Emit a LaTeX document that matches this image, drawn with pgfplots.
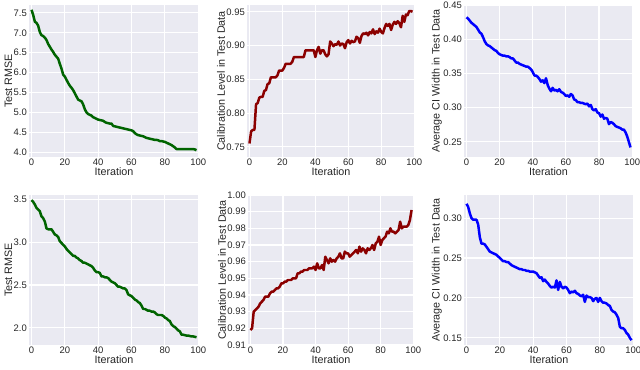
\documentclass[border=0pt]{standalone}
\usepackage{pgfplots}
\usepackage{pgfplotstable}
\pgfplotsset{compat=1.18}
\usepackage{fontspec}
\setmainfont{Liberation Sans}
\definecolor{sbbg}{HTML}{EAEAF2}
\definecolor{sbtxt}{HTML}{262626}
\definecolor{lgreen}{HTML}{006400}
\definecolor{lred}{HTML}{8B0000}
\definecolor{lblue}{HTML}{0000FF}

\pgfplotstableread{
x a b c d e f
0 7.58 0.755 0.432 3.49 0.919 0.318
1 7.45 0.773 0.430 3.47 0.920 0.314
2 7.28 0.775 0.427 3.44 0.930 0.306
3 7.25 0.775 0.424 3.40 0.931 0.300
4 7.18 0.813 0.422 3.38 0.932 0.298
5 7.02 0.815 0.420 3.36 0.933 0.298
6 6.94 0.823 0.418 3.30 0.935 0.298
7 6.92 0.824 0.414 3.28 0.936 0.292
8 6.88 0.824 0.410 3.24 0.937 0.276
9 6.82 0.833 0.408 3.16 0.939 0.268
10 6.72 0.834 0.403 3.15 0.939 0.268
11 6.65 0.843 0.397 3.15 0.939 0.267
12 6.58 0.844 0.393 3.15 0.941 0.264
13 6.52 0.853 0.391 3.12 0.942 0.261
14 6.45 0.853 0.390 3.09 0.942 0.258
15 6.40 0.853 0.388 3.08 0.943 0.257
16 6.35 0.853 0.386 3.06 0.944 0.256
17 6.22 0.856 0.384 3.01 0.944 0.255
18 6.10 0.863 0.383 2.99 0.945 0.254
19 5.95 0.863 0.380 2.97 0.947 0.252
20 5.90 0.863 0.378 2.95 0.947 0.250
21 5.82 0.867 0.377 2.92 0.948 0.248
22 5.74 0.873 0.376 2.90 0.948 0.246
23 5.67 0.873 0.376 2.88 0.949 0.246
24 5.62 0.873 0.375 2.86 0.949 0.245
25 5.56 0.873 0.375 2.84 0.949 0.245
26 5.48 0.876 0.374 2.84 0.950 0.243
27 5.40 0.883 0.372 2.82 0.950 0.241
28 5.32 0.883 0.372 2.81 0.950 0.240
29 5.30 0.883 0.369 2.79 0.953 0.239
30 5.28 0.883 0.366 2.78 0.953 0.238
31 5.20 0.883 0.366 2.76 0.954 0.237
32 5.08 0.883 0.364 2.76 0.954 0.236
33 5.00 0.883 0.363 2.75 0.955 0.236
34 4.96 0.893 0.362 2.74 0.955 0.235
35 4.94 0.893 0.361 2.73 0.955 0.235
36 4.92 0.893 0.360 2.72 0.956 0.234
37 4.88 0.893 0.360 2.70 0.956 0.234
38 4.86 0.893 0.358 2.67 0.956 0.233
39 4.84 0.893 0.356 2.65 0.957 0.233
40 4.82 0.883 0.352 2.65 0.955 0.233
41 4.81 0.893 0.347 2.64 0.959 0.232
42 4.80 0.898 0.347 2.60 0.956 0.231
43 4.79 0.888 0.345 2.60 0.956 0.228
44 4.76 0.893 0.342 2.59 0.958 0.225
45 4.74 0.893 0.338 2.59 0.955 0.226
46 4.73 0.887 0.340 2.58 0.963 0.221
47 4.72 0.884 0.336 2.56 0.961 0.223
48 4.72 0.887 0.343 2.54 0.959 0.220
49 4.66 0.906 0.333 2.53 0.962 0.218
50 4.65 0.903 0.328 2.52 0.960 0.215
51 4.64 0.899 0.324 2.50 0.961 0.213
52 4.63 0.902 0.329 2.48 0.960 0.214
53 4.62 0.901 0.325 2.48 0.962 0.213
54 4.61 0.906 0.326 2.47 0.963 0.222
55 4.60 0.900 0.324 2.46 0.965 0.210
56 4.59 0.903 0.327 2.46 0.962 0.220
57 4.58 0.902 0.323 2.44 0.962 0.214
58 4.57 0.896 0.322 2.39 0.966 0.212
59 4.56 0.905 0.320 2.38 0.965 0.214
60 4.55 0.908 0.317 2.37 0.965 0.213
61 4.53 0.903 0.318 2.35 0.963 0.210
62 4.48 0.907 0.316 2.33 0.964 0.206
63 4.45 0.905 0.320 2.32 0.965 0.208
64 4.43 0.906 0.318 2.30 0.966 0.207
65 4.42 0.913 0.312 2.29 0.967 0.209
66 4.41 0.911 0.311 2.26 0.965 0.206
67 4.40 0.904 0.308 2.22 0.969 0.205
68 4.38 0.914 0.308 2.22 0.966 0.203
69 4.36 0.918 0.307 2.21 0.968 0.202
70 4.35 0.917 0.307 2.20 0.967 0.204
71 4.34 0.919 0.306 2.20 0.965 0.195
72 4.33 0.915 0.305 2.19 0.968 0.203
73 4.32 0.920 0.306 2.19 0.967 0.201
74 4.31 0.918 0.302 2.18 0.968 0.201
75 4.31 0.924 0.304 2.16 0.970 0.200
76 4.30 0.917 0.298 2.15 0.967 0.196
77 4.28 0.921 0.296 2.15 0.971 0.199
78 4.28 0.919 0.298 2.15 0.972 0.200
79 4.27 0.925 0.293 2.14 0.975 0.195
80 4.26 0.920 0.292 2.12 0.970 0.200
81 4.24 0.918 0.287 2.11 0.973 0.196
82 4.22 0.926 0.290 2.09 0.974 0.194
83 4.20 0.932 0.284 2.08 0.975 0.194
84 4.18 0.929 0.285 2.04 0.978 0.193
85 4.15 0.932 0.284 2.02 0.977 0.191
86 4.12 0.923 0.276 2.01 0.980 0.190
87 4.08 0.931 0.279 1.99 0.978 0.185
88 4.08 0.935 0.278 1.97 0.978 0.183
89 4.08 0.932 0.276 1.96 0.977 0.182
90 4.08 0.936 0.273 1.92 0.978 0.179
91 4.08 0.933 0.272 1.92 0.979 0.175
92 4.08 0.927 0.271 1.915 0.984 0.164
93 4.08 0.944 0.270 1.91 0.980 0.162
94 4.08 0.935 0.268 1.91 0.981 0.162
95 4.08 0.946 0.268 1.905 0.981 0.160
96 4.08 0.945 0.264 1.90 0.981 0.156
97 4.08 0.951 0.258 1.90 0.982 0.154
98 4.07 0.951 0.250 1.895 0.985 0.150
99 4.05 0.950 0.242 1.89 0.991 0.147
}\data

\pgfplotsset{
  sb/.style={
    scale only axis,
    anchor=south west,
    axis background/.style={fill=sbbg},
    axis line style={draw=none},
    major tick length=0pt,
    grid=major,
    major grid style={white, line width=1.1pt},
    xmin=-1.5, xmax=100.5,
    xtick={0,20,40,60,80,100},
    tick label style={font=\fontsize{9.5}{10}\selectfont, text=sbtxt},
    label style={font=\fontsize{10.8}{12}\selectfont, text=sbtxt},
    /pgf/number format/assume math mode=true,
    xticklabel style={inner sep=2pt},
    yticklabel style={inner sep=2pt},
    xlabel={Iteration},
    xlabel style={yshift=4pt},
    ylabel style={yshift=-4pt},
    clip=false,
  },
  sbline/.style={line width=2.5pt, line join=round, no marks},
}

\begin{document}
\begin{tikzpicture}
\path[use as bounding box] (0,0) rectangle (640bp,370bp);
% top row
\begin{axis}[sb, at={(29bp,213bp)}, width=170bp, height=152bp,
  ymin=3.88, ymax=7.7, ytick={4,4.5,...,7.5},
  yticklabel style={/pgf/number format/.cd, fixed, fixed zerofill, precision=1},
  ylabel={Test RMSE}]
\addplot[sbline, lgreen] table[x=x, y=a] {\data};
\end{axis}
\begin{axis}[sb, at={(247bp,213bp)}, width=168bp, height=152bp,
  ymin=0.735, ymax=0.96, ytick={0.75,0.80,0.85,0.90,0.95},
  yticklabel style={/pgf/number format/.cd, fixed, fixed zerofill, precision=2},
  ylabel={Calibration Level in Test Data}]
\addplot[sbline, lred] table[x=x, y=b] {\data};
\end{axis}
\begin{axis}[sb, at={(464bp,213bp)}, width=169bp, height=152bp,
  ymin=0.228, ymax=0.45, ytick={0.25,0.30,0.35,0.40,0.45},
  yticklabel style={/pgf/number format/.cd, fixed, fixed zerofill, precision=2},
  ylabel={Average CI Width in Test Data}]
\addplot[sbline, lblue] table[x=x, y=c] {\data};
\end{axis}
% bottom row
\begin{axis}[sb, at={(29bp,25bp)}, width=170bp, height=150bp,
  ymin=1.80, ymax=3.55, ytick={2.0,2.5,3.0,3.5},
  yticklabel style={/pgf/number format/.cd, fixed, fixed zerofill, precision=1},
  ylabel={Test RMSE}]
\addplot[sbline, lgreen] table[x=x, y=d] {\data};
\end{axis}
\begin{axis}[sb, at={(248bp,25bp)}, width=166bp, height=150bp,
  ymin=0.91, ymax=1.00, ytick={0.91,0.92,0.93,0.94,0.95,0.96,0.97,0.98,0.99,1.00},
  yticklabel style={/pgf/number format/.cd, fixed, fixed zerofill, precision=2},
  ylabel={Calibration Level in Test Data}]
\addplot[sbline, lred] table[x=x, y=e] {\data};
\end{axis}
\begin{axis}[sb, at={(464bp,25bp)}, width=170bp, height=150bp,
  ymin=0.141, ymax=0.329, ytick={0.15,0.20,0.25,0.30},
  yticklabel style={/pgf/number format/.cd, fixed, fixed zerofill, precision=2},
  ylabel={Average CI Width in Test Data}]
\addplot[sbline, lblue] table[x=x, y=f] {\data};
\end{axis}
\end{tikzpicture}
\end{document}
